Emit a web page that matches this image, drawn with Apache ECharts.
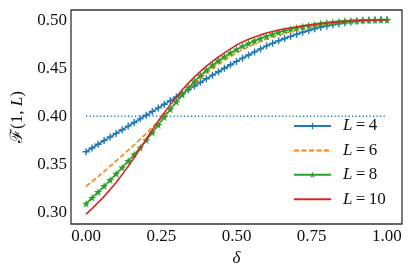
<!DOCTYPE html>
<html><head><meta charset="utf-8">
<script src="https://cdn.jsdelivr.net/npm/echarts@6/dist/echarts.min.js"></script>
<style>html,body{margin:0;padding:0;background:#fff}#c{width:415px;height:277px}</style>
</head><body><div id="c"></div>
<script>
// delta values (x)
const deltas = [0.00,0.02,0.04,0.06,0.08,0.10,0.12,0.14,0.16,0.18,0.20,0.22,0.24,0.26,0.28,0.30,0.32,0.34,0.36,0.38,0.40,0.42,0.44,0.46,0.48,0.50,0.52,0.54,0.56,0.58,0.60,0.62,0.64,0.66,0.68,0.70,0.72,0.74,0.76,0.78,0.80,0.82,0.84,0.86,0.88,0.90,0.92,0.94,0.96,0.98,1.00];
const seriesNames = ['L=4','L=6','L=8','L=10'];
const fL4 = [0.3630,0.3669,0.3708,0.3746,0.3784,0.3821,0.3859,0.3897,0.3934,0.3972,0.4010,0.4048,0.4086,0.4124,0.4162,0.4200,0.4238,0.4276,0.4314,0.4352,0.4390,0.4427,0.4463,0.4499,0.4535,0.4570,0.4604,0.4637,0.4669,0.4700,0.4732,0.4758,0.4784,0.4808,0.4831,0.4853,0.4873,0.4892,0.4909,0.4925,0.4939,0.4952,0.4963,0.4973,0.4981,0.4988,0.4994,0.4998,0.5001,0.5003,0.5004];
const fL6 = [0.3270,0.3320,0.3372,0.3425,0.3479,0.3535,0.3590,0.3646,0.3703,0.3761,0.3820,0.3882,0.3947,0.4014,0.4082,0.4150,0.4216,0.4278,0.4336,0.4392,0.4445,0.4495,0.4541,0.4583,0.4623,0.4660,0.4693,0.4723,0.4750,0.4776,0.4800,0.4822,0.4842,0.4861,0.4879,0.4895,0.4910,0.4923,0.4935,0.4946,0.4955,0.4964,0.4971,0.4978,0.4984,0.4988,0.4992,0.4995,0.4998,0.5000,0.5002];
const fL8 = [0.3090,0.3150,0.3211,0.3273,0.3336,0.3400,0.3466,0.3533,0.3602,0.3673,0.3750,0.3828,0.3909,0.3991,0.4072,0.4150,0.4225,0.4296,0.4362,0.4423,0.4479,0.4530,0.4577,0.4620,0.4659,0.4695,0.4728,0.4758,0.4785,0.4810,0.4833,0.4854,0.4873,0.4890,0.4905,0.4919,0.4932,0.4944,0.4955,0.4964,0.4972,0.4979,0.4985,0.4990,0.4994,0.4997,0.4999,0.5001,0.5002,0.5003,0.5003];
const fL10 = [0.2980,0.3038,0.3100,0.3166,0.3236,0.3310,0.3392,0.3479,0.3570,0.3664,0.3760,0.3856,0.3949,0.4037,0.4120,0.4200,0.4275,0.4344,0.4407,0.4466,0.4520,0.4570,0.4616,0.4659,0.4701,0.4740,0.4773,0.4801,0.4825,0.4846,0.4865,0.4882,0.4896,0.4909,0.4920,0.4930,0.4940,0.4949,0.4957,0.4964,0.4970,0.4976,0.4981,0.4986,0.4990,0.4993,0.4996,0.4998,0.5000,0.5001,0.5002];
const thresholdLine = [[0.0,0.40],[1.0,0.40]];
const xTicks = [0.00,0.25,0.50,0.75,1.00];
const yTicks = [0.30,0.35,0.40,0.45,0.50];

const FONT = "'Liberation Serif','DejaVu Serif',serif";
const colors = ['#1f77b4','#ff7f0e','#2ca02c','#d62728'];
const plusPath = 'path://M4,0H6V4H10V6H6V10H4V6H0V4H4Z';
const starPath = 'path://M5,0L6.2,3.6L10,3.6L6.9,5.9L8.1,9.5L5,7.3L1.9,9.5L3.1,5.9L0,3.6L3.8,3.6Z';
const pair = arr => deltas.map((d,i)=>[d, arr[i]]);

const chart = echarts.init(document.getElementById('c'), null, {renderer:'canvas'});
chart.setOption({
  animation:false,
  backgroundColor:'#fff',
  grid:{left:71,right:13,top:10,bottom:53,show:true,borderColor:'#333',borderWidth:1.3,backgroundColor:'transparent',containLabel:false,outerBoundsMode:'none'},
  xAxis:{type:'value',min:-0.05,max:1.05,
    name:'δ',nameLocation:'middle',nameGap:22,
    nameTextStyle:{fontFamily:FONT,fontSize:17,fontStyle:'italic',color:'#111'},
    axisLine:{show:false},axisTick:{show:false},splitLine:{show:false},
    axisLabel:{customValues:xTicks,formatter:v=>v.toFixed(2),fontFamily:FONT,fontSize:17,color:'#111',margin:4}},
  yAxis:{type:'value',min:0.2878,max:0.5105,
    name:'ℱ(1, {i|L})',nameLocation:'middle',nameGap:44,nameRotate:90,
    nameTextStyle:{fontFamily:FONT,fontSize:17,color:'#111',rich:{i:{fontFamily:FONT,fontSize:17,fontStyle:'italic',color:'#111'}}},
    axisLine:{show:false},axisTick:{show:false},splitLine:{show:false},
    axisLabel:{customValues:yTicks,formatter:v=>v.toFixed(2),fontFamily:FONT,fontSize:17,color:'#111',margin:4}},
  legend:{orient:'vertical',left:288,top:111,itemWidth:37,itemHeight:8,itemGap:4.4,
    data:[
      {name:seriesNames[0]},
      {name:seriesNames[1],itemStyle:{opacity:0}},
      {name:seriesNames[2]},
      {name:seriesNames[3],itemStyle:{opacity:0}}
    ],
    formatter:n=>'{i|L}\u2009=\u2009'+n.split('=')[1],
    textStyle:{fontFamily:FONT,fontSize:17,color:'#111',lineHeight:20,padding:[0,0,0,7],
      rich:{i:{fontFamily:FONT,fontSize:17,fontStyle:'italic',color:'#111'}}}},
  series:[
    {type:'line',name:'threshold',data:thresholdLine,symbol:'none',silent:true,
      lineStyle:{color:colors[0],width:1.6,type:[1.2,2.3]},z:1},
    {type:'line',name:seriesNames[0],data:pair(fL4),symbol:plusPath,symbolSize:7,showAllSymbol:true,
      itemStyle:{color:colors[0]},lineStyle:{color:colors[0],width:1.6},z:2},
    {type:'line',name:seriesNames[1],data:pair(fL6),symbol:'none',
      itemStyle:{color:colors[1]},lineStyle:{color:colors[1],width:1.6,type:[5,2.5]},z:3},
    {type:'line',name:seriesNames[2],data:pair(fL8),symbol:starPath,symbolSize:8,showAllSymbol:true,
      itemStyle:{color:colors[2]},lineStyle:{color:colors[2],width:1.6},z:4},
    {type:'line',name:seriesNames[3],data:pair(fL10),symbol:'none',
      itemStyle:{color:colors[3]},lineStyle:{color:colors[3],width:1.6},z:5}
  ]
});
</script></body></html>
